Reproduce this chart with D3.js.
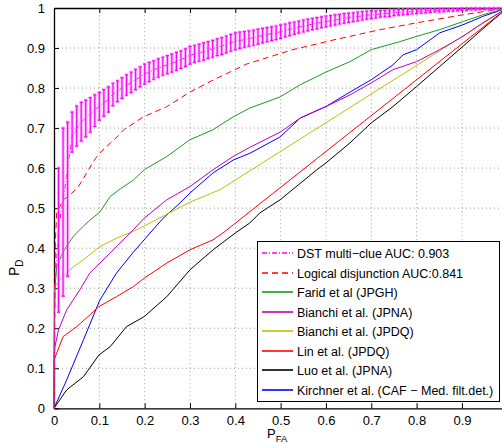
<!DOCTYPE html>
<html>
<head>
<meta charset="utf-8">
<script src="https://cdn.jsdelivr.net/npm/d3@7"></script>
<style>
  body { margin: 0; background: #fff; }
  svg { font-family: "Liberation Sans", Arial, sans-serif; }
</style>
</head>
<body>
<div class="svg-target"></div>
<script>
const w = 502;
const h = 444;

// tick values
const xTicks = [0, 0.1, 0.2, 0.3, 0.4, 0.5, 0.6, 0.7, 0.8, 0.9];
const yTicks = [0, 0.1, 0.2, 0.3, 0.4, 0.5, 0.6, 0.7, 0.8, 0.9, 1];

// DST multi-clue: line points, bar low / high (null = no bar)
const dstFA = [0, 0.002, 0.01, 0.02, 0.03, 0.04, 0.05, 0.06, 0.07, 0.08, 0.09, 0.10,
  0.11, 0.12, 0.13, 0.14, 0.15, 0.16, 0.17, 0.18, 0.19, 0.20,
  0.21, 0.22, 0.23, 0.24, 0.25, 0.26, 0.27, 0.28, 0.29, 0.30,
  0.31, 0.32, 0.33, 0.34, 0.35, 0.36, 0.37, 0.38, 0.39, 0.40,
  0.41, 0.42, 0.43, 0.44, 0.45, 0.46, 0.47, 0.48, 0.49, 0.50,
  0.51, 0.52, 0.53, 0.54, 0.55, 0.56, 0.57, 0.58, 0.59, 0.60,
  0.61, 0.62, 0.63, 0.64, 0.65, 0.66, 0.67, 0.68, 0.69, 0.70,
  0.71, 0.72, 0.73, 0.74, 0.75, 0.76, 0.77, 0.78, 0.79, 0.80,
  0.81, 0.82, 0.83, 0.84, 0.85, 0.86, 0.87, 0.88, 0.89, 0.90,
  0.91, 0.92, 0.93, 0.94, 0.95, 0.96, 0.97, 0.98, 0.99, 1.0];
const dstPD = [0, 0.30, 0.45, 0.52, 0.60, 0.68, 0.70, 0.715, 0.725, 0.735, 0.745, 0.755,
  0.763, 0.771, 0.785, 0.792, 0.80, 0.807, 0.814, 0.821, 0.828, 0.835,
  0.840, 0.845, 0.850, 0.854, 0.858, 0.862, 0.866, 0.871, 0.876, 0.882,
  0.885, 0.888, 0.891, 0.895, 0.898, 0.902, 0.905, 0.909, 0.913, 0.917,
  0.919, 0.921, 0.924, 0.926, 0.929, 0.931, 0.934, 0.936, 0.938, 0.941,
  0.944, 0.947, 0.949, 0.952, 0.955, 0.957, 0.960, 0.962, 0.964, 0.966,
  0.968, 0.970, 0.972, 0.974, 0.976, 0.977, 0.979, 0.980, 0.982, 0.983,
  0.984, 0.985, 0.986, 0.987, 0.988, 0.989, 0.990, 0.990, 0.991, 0.992,
  0.992, 0.993, 0.993, 0.994, 0.994, 0.995, 0.995, 0.996, 0.996, 0.997,
  0.997, 0.997, 0.998, 0.998, 0.998, 0.999, 0.999, 0.999, 1.0, 1.0];
const dstLo = [null, null, 0.24, 0.28, 0.33, 0.64, 0.655, 0.668, 0.678, 0.69, 0.704, 0.72,
  0.73, 0.74, 0.756, 0.766, 0.774, 0.782, 0.789, 0.796, 0.803, 0.810,
  0.816, 0.822, 0.827, 0.832, 0.836, 0.840, 0.844, 0.849, 0.854, 0.860,
  0.864, 0.867, 0.870, 0.874, 0.877, 0.881, 0.884, 0.888, 0.892, 0.896,
  0.899, 0.902, 0.905, 0.907, 0.910, 0.913, 0.916, 0.919, 0.921, 0.924,
  0.928, 0.931, 0.934, 0.937, 0.940, 0.943, 0.946, 0.948, 0.951, 0.953,
  0.955, 0.957, 0.960, 0.962, 0.964, 0.966, 0.968, 0.970, 0.972, 0.974,
  0.975, 0.977, 0.978, 0.979, 0.981, 0.982, 0.983, 0.984, 0.985, 0.986,
  0.987, 0.988, 0.989, 0.990, 0.990, 0.991, 0.992, 0.992, 0.993, 0.994,
  0.994, 0.995, 0.995, 0.996, 0.996, 0.997, 0.997, 0.998, 0.998, null];
const dstHi = [null, null, 0.60, 0.70, 0.715, 0.74, 0.755, 0.764, 0.77, 0.776, 0.783, 0.789,
  0.796, 0.803, 0.812, 0.818, 0.826, 0.833, 0.840, 0.847, 0.853, 0.860,
  0.864, 0.868, 0.873, 0.877, 0.881, 0.885, 0.889, 0.893, 0.898, 0.904,
  0.907, 0.910, 0.913, 0.916, 0.919, 0.923, 0.926, 0.930, 0.934, 0.938,
  0.940, 0.941, 0.943, 0.945, 0.947, 0.949, 0.951, 0.953, 0.955, 0.958,
  0.960, 0.963, 0.965, 0.967, 0.970, 0.972, 0.974, 0.976, 0.978, 0.980,
  0.981, 0.983, 0.984, 0.986, 0.987, 0.988, 0.990, 0.991, 0.992, 0.993,
  0.993, 0.994, 0.994, 0.995, 0.995, 0.996, 0.996, 0.997, 0.997, 0.997,
  0.998, 0.998, 0.998, 0.998, 0.999, 0.999, 0.999, 0.999, 0.999, 1.0,
  1.0, 1.0, 1.0, 1.0, 1.0, 1.0, 1.0, 1.0, 1.0, null];

// Logical disjunction
const logicFA = [0, 0.001, 0.003, 0.006, 0.02, 0.035, 0.054, 0.072, 0.087, 0.101, 0.141, 0.153, 0.197, 0.248, 0.30, 0.351, 0.425, 0.527, 0.616, 0.72, 0.80, 0.902, 1.0];
const logicPD = [0, 0.2, 0.42, 0.488, 0.52, 0.533, 0.554, 0.588, 0.617, 0.638, 0.68, 0.695, 0.728, 0.753, 0.79, 0.82, 0.86, 0.896, 0.92, 0.946, 0.963, 0.983, 1.0];

// Farid et al (JPGH)
const faridFA = [0, 0, 0.002, 0.006, 0.02, 0.028, 0.043, 0.065, 0.079, 0.101, 0.124, 0.146, 0.175, 0.199, 0.249, 0.30, 0.351, 0.395, 0.432, 0.499, 0.543, 0.60, 0.653, 0.70, 0.763, 0.80, 0.851, 0.902, 0.946, 1.0];
const faridPD = [0, 0.12, 0.30, 0.354, 0.39, 0.405, 0.43, 0.455, 0.47, 0.49, 0.529, 0.548, 0.57, 0.596, 0.629, 0.671, 0.696, 0.728, 0.75, 0.778, 0.808, 0.84, 0.866, 0.896, 0.916, 0.929, 0.946, 0.966, 0.983, 1.0];

// Bianchi et al. (JPNA)
const bjpnaFA = [0, 0, 0.002, 0.01, 0.028, 0.057, 0.079, 0.124, 0.146, 0.175, 0.199, 0.249, 0.30, 0.351, 0.395, 0.432, 0.499, 0.543, 0.60, 0.653, 0.70, 0.748, 0.80, 0.851, 0.902, 0.946, 1.0];
const bjpnaPD = [0, 0.12, 0.154, 0.196, 0.246, 0.296, 0.338, 0.388, 0.413, 0.446, 0.475, 0.521, 0.554, 0.596, 0.629, 0.652, 0.69, 0.725, 0.754, 0.783, 0.813, 0.846, 0.866, 0.896, 0.929, 0.963, 1.0];

// Bianchi et al. (JPDQ)
const bjpdqFA = [0, 0, 0.002, 0.013, 0.028, 0.043, 0.065, 0.101, 0.138, 0.175, 0.212, 0.249, 0.30, 0.366, 1.0];
const bjpdqPD = [0, 0.28, 0.304, 0.321, 0.338, 0.354, 0.371, 0.404, 0.425, 0.442, 0.463, 0.485, 0.515, 0.546, 1.0];

// Lin et al. (JPDQ)
const linFA = [0, 0, 0.006, 0.02, 0.05, 0.079, 0.099, 0.138, 0.175, 0.199, 0.249, 0.30, 0.351, 0.375, 1.0];
const linPD = [0, 0.12, 0.138, 0.179, 0.204, 0.233, 0.254, 0.279, 0.304, 0.325, 0.363, 0.396, 0.421, 0.44, 1.0];

// Luo et al. (JPNA)
const luoFA = [0, 0.028, 0.065, 0.099, 0.124, 0.16, 0.199, 0.249, 0.30, 0.351, 0.40, 0.432, 0.454, 0.499, 0.58, 0.60, 0.653, 0.70, 0.748, 0.80, 0.851, 0.902, 0.946, 1.0];
const luoPD = [0, 0.046, 0.079, 0.133, 0.154, 0.204, 0.229, 0.279, 0.346, 0.396, 0.438, 0.463, 0.488, 0.521, 0.596, 0.613, 0.663, 0.713, 0.754, 0.804, 0.854, 0.904, 0.948, 1.0];

// Kirchner et al.
const kirchFA = [0, 0.028, 0.065, 0.101, 0.138, 0.175, 0.212, 0.241, 0.278, 0.30, 0.351, 0.395, 0.432, 0.499, 0.543, 0.60, 0.653, 0.70, 0.748, 0.77, 0.80, 0.851, 0.902, 0.946, 1.0];
const kirchPD = [0, 0.071, 0.171, 0.27, 0.338, 0.39, 0.438, 0.475, 0.513, 0.538, 0.588, 0.62, 0.637, 0.678, 0.725, 0.754, 0.79, 0.821, 0.858, 0.883, 0.896, 0.938, 0.958, 0.979, 1.0];

const legendLabels = [
  'DST multi\u2212clue AUC: 0.903',
  'Logical disjunction AUC:0.841',
  'Farid et al (JPGH)',
  'Bianchi et al. (JPNA)',
  'Bianchi et al. (JPDQ)',
  'Lin et al. (JPDQ)',
  'Luo et al. (JPNA)',
  'Kirchner et al. (CAF \u2212 Med. filt.det.)'
];

const series = [
  { fa: dstFA, pd: dstPD, color: '#ff00ff', dash: '5,2,1,2' },
  { fa: logicFA, pd: logicPD, color: '#ff0000', dash: '6,4' },
  { fa: faridFA, pd: faridPD, color: '#1a9c1a', dash: null },
  { fa: bjpnaFA, pd: bjpnaPD, color: '#bf00bf', dash: null },
  { fa: bjpdqFA, pd: bjpdqPD, color: '#bfbf00', dash: null },
  { fa: linFA, pd: linPD, color: '#ff0000', dash: null },
  { fa: luoFA, pd: luoPD, color: '#000000', dash: null },
  { fa: kirchFA, pd: kirchPD, color: '#0000ff', dash: null }
];

const svg = d3.select('.svg-target')
  .append('svg')
  .attr('width', w)
  .attr('height', h);

const xScale = d3.scaleLinear().domain([0, 1]).range([54, 507.3]);
const yScale = d3.scaleLinear().domain([0, 1]).range([408.3, 8]);

// grid
svg.append('g').selectAll('line')
  .data(xTicks.filter(d => d > 0))
  .enter().append('line')
  .attr('x1', d => xScale(d)).attr('x2', d => xScale(d))
  .attr('y1', yScale(0)).attr('y2', yScale(1))
  .attr('stroke', '#999').attr('stroke-dasharray', '1,3');
svg.append('g').selectAll('line')
  .data(yTicks.filter(d => d > 0 && d < 1))
  .enter().append('line')
  .attr('y1', d => yScale(d)).attr('y2', d => yScale(d))
  .attr('x1', xScale(0)).attr('x2', w)
  .attr('stroke', '#999').attr('stroke-dasharray', '1,3');

// axes
const xAxis = d3.axisBottom(xScale).tickValues(xTicks).tickSizeInner(-5).tickSizeOuter(0).tickPadding(7).tickFormat(d => d);
const xg = svg.append('g')
  .attr('transform', `translate(0, ${yScale(0)})`)
  .call(xAxis);
const yAxis = d3.axisLeft(yScale).tickValues(yTicks).tickSizeInner(-5).tickSizeOuter(0).tickPadding(9).tickFormat(d => d);
const yg = svg.append('g')
  .attr('transform', `translate(${xScale(0)}, 0)`)
  .call(yAxis);
const xTop = d3.axisTop(xScale).tickValues(xTicks).tickSizeInner(-5).tickSizeOuter(0).tickFormat('');
const tg = svg.append('g')
  .attr('transform', `translate(0, ${yScale(1)})`)
  .call(xTop);
[xg, yg, tg].forEach(g => {
  g.selectAll('text').attr('font-size', 13).attr('fill', '#000')
    .attr('font-family', '"Liberation Sans", Arial, sans-serif');
  g.select('.domain').attr('stroke', '#000').attr('stroke-width', 1.3);
});

// curves
const line = d3.line()
  .x(d => xScale(d[0]))
  .y(d => yScale(d[1]));

const plot = svg.append('g');
series.slice().reverse().forEach(s => {
  plot.append('path')
    .datum(s.fa.map((f, i) => [f, s.pd[i]]))
    .attr('d', line)
    .attr('fill', 'none')
    .attr('stroke', s.color)
    .attr('stroke-width', 1)
    .attr('stroke-dasharray', s.dash);
});

// DST error bars
const bars = dstFA.map((f, i) => ({ f: f, lo: dstLo[i], hi: dstHi[i] })).filter(d => d.lo !== null);
const eb = plot.append('g');
[{ c: '#ff80ff', sw: 3, op: 0.6 }, { c: '#ff00ff', sw: 1.2, op: 1 }].forEach(st => {
  const g = eb.append('g').attr('stroke', st.c).attr('stroke-width', st.sw).attr('opacity', st.op);
  g.selectAll('path')
    .data(bars)
    .enter().append('path')
    .attr('fill', 'none')
    .attr('d', d => {
      const x = xScale(d.f), y1 = yScale(d.lo), y2 = yScale(d.hi);
      return `M${x - 1.6},${y1}H${x + 1.6}M${x},${y1}V${y2}M${x - 1.6},${y2}H${x + 1.6}`;
    });
});

// axis labels
const yl = svg.append('text')
  .attr('transform', 'translate(19, 276) rotate(-90)')
  .attr('font-size', 14);
yl.append('tspan').text('P');
yl.append('tspan').attr('font-size', 10).attr('dy', 4).text('D');

const xl = svg.append('text')
  .attr('x', 267).attr('y', 437.5)
  .attr('font-size', 13);
xl.append('tspan').text('P');
xl.append('tspan').attr('font-size', 9.5).attr('dy', 4).text('FA');

// legend
const lg = svg.append('g');
lg.append('rect')
  .attr('x', 257.5).attr('y', 241.5)
  .attr('width', 242).attr('height', 160)
  .attr('fill', '#fff').attr('stroke', '#000').attr('stroke-width', 1);
legendLabels.forEach((label, i) => {
  const y = Math.round(253 + i * 19.5);
  lg.append('line')
    .attr('x1', 262).attr('x2', 293)
    .attr('y1', y).attr('y2', y)
    .attr('stroke', series[i].color)
    .attr('stroke-width', 1.6)
    .attr('stroke-dasharray', series[i].dash);
  lg.append('text')
    .attr('x', 297).attr('y', y + 4.5)
    .attr('font-size', 12.5)
    .text(label);
});
</script>
</body>
</html>
